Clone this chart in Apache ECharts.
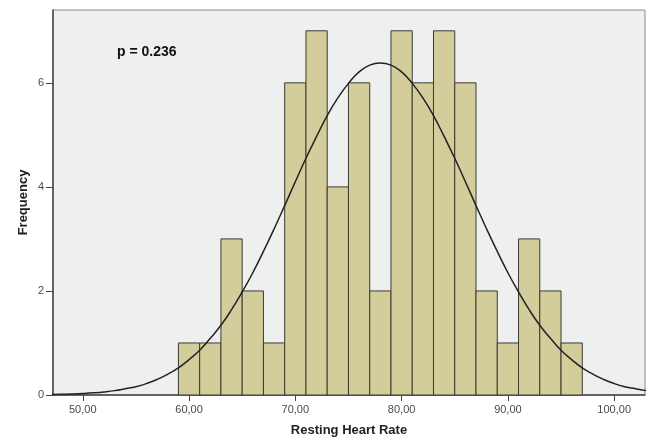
<!DOCTYPE html>
<html>
<head>
<meta charset="utf-8">
<script src="https://cdn.jsdelivr.net/npm/echarts@6/dist/echarts.min.js"></script>
<style>html,body{margin:0;padding:0;background:#fff}#c{width:649px;height:439px}</style>
</head>
<body>
<div id="c"></div>
<script>
// Histogram bins (lower edge, upper edge) and counts
const binStarts = [59,61,63,65,67,69,71,73,75,77,79,81,83,85,87,89,91,93,95];
const binWidth = 2;
const counts = [1,1,3,2,1,6,7,4,6,2,7,6,7,6,2,1,3,2,1];
// Normal curve points
const curveX = [47,48,49,50,51,52,53,54,55,56,57,58,59,60,61,62,63,64,65,66,67,68,69,70,71,72,73,74,75,76,77,78,79,80,81,82,83,84,85,86,87,88,89,90,91,92,93,94,95,96,97,98,99,100,101,102,103];
const curveY = [0.008,0.013,0.019,0.028,0.041,0.059,0.084,0.12,0.16,0.22,0.30,0.40,0.52,0.68,0.86,1.09,1.34,1.64,1.98,2.35,2.76,3.19,3.64,4.10,4.55,4.97,5.37,5.71,5.99,6.21,6.34,6.38,6.34,6.21,5.99,5.71,5.37,4.97,4.55,4.10,3.64,3.19,2.76,2.35,1.98,1.64,1.34,1.09,0.86,0.68,0.52,0.40,0.30,0.22,0.16,0.12,0.084];
const xTicks = [50,60,70,80,90,100];
const yTicks = [0,2,4,6];
const pText = 'p = 0.236';

const barData = binStarts.map((s, i) => [s, s + binWidth, counts[i]]);
const curveData = curveX.map((x, i) => [x, curveY[i]]);

const chart = echarts.init(document.getElementById('c'), null, {renderer: 'canvas'});
chart.setOption({
  animation: false,
  backgroundColor: '#ffffff',
  grid: {left: 53, top: 10, right: 4, bottom: 44, containLabel: false, outerBoundsMode: 'none',
    show: true, backgroundColor: '#eef0f0', borderColor: '#8a8a8a', borderWidth: 1},
  xAxis: {
    type: 'value', min: 47.2, max: 102.9,
    name: 'Resting Heart Rate', nameLocation: 'middle', nameGap: 29, nameMoveOverlap: false,
    nameTextStyle: {fontFamily: 'Liberation Sans', fontWeight: 'bold', fontSize: 13, color: '#222'},
    axisLine: {show: true, lineStyle: {color: '#444', width: 1.5}},
    axisTick: {show: true, length: 6, lineStyle: {color: '#444'}, customValues: xTicks},
    axisLabel: {color: '#4a4a4a', fontFamily: 'Liberation Sans', fontSize: 11, margin: 9, customValues: xTicks,
      formatter: v => v.toFixed(2).replace('.', ',')},
    splitLine: {show: false}
  },
  yAxis: {
    type: 'value', min: 0, max: 7.4,
    name: 'Frequency', nameLocation: 'middle', nameGap: 23, nameRotate: 90, nameMoveOverlap: false,
    nameTextStyle: {fontFamily: 'Liberation Sans', fontWeight: 'bold', fontSize: 13, color: '#222'},
    axisLine: {show: true, lineStyle: {color: '#444', width: 1.5}},
    axisTick: {show: true, length: 7, lineStyle: {color: '#444'}, customValues: yTicks},
    axisLabel: {color: '#4a4a4a', fontFamily: 'Liberation Sans', fontSize: 11, margin: 9, customValues: yTicks},
    splitLine: {show: false}
  },
  series: [
    {
      type: 'custom',
      data: barData,
      renderItem: function (params, api) {
        const p0 = api.coord([api.value(0), api.value(2)]);
        const p1 = api.coord([api.value(1), 0]);
        return {
          type: 'rect',
          shape: {x: p0[0], y: p0[1], width: p1[0] - p0[0], height: p1[1] - p0[1]},
          style: {fill: '#d2cd9b', stroke: '#3c3a2e', lineWidth: 1}
        };
      },
      z: 2
    },
    {
      type: 'line',
      data: curveData,
      smooth: true,
      showSymbol: false,
      lineStyle: {color: '#222', width: 1.5},
      z: 3
    }
  ],
  graphic: [
    {type: 'text', left: 117, top: 45, style: {text: pText, fontFamily: 'Liberation Sans', fontWeight: 'bold', fontSize: 14, fill: '#111'}}
  ]
});
</script>
</body>
</html>
